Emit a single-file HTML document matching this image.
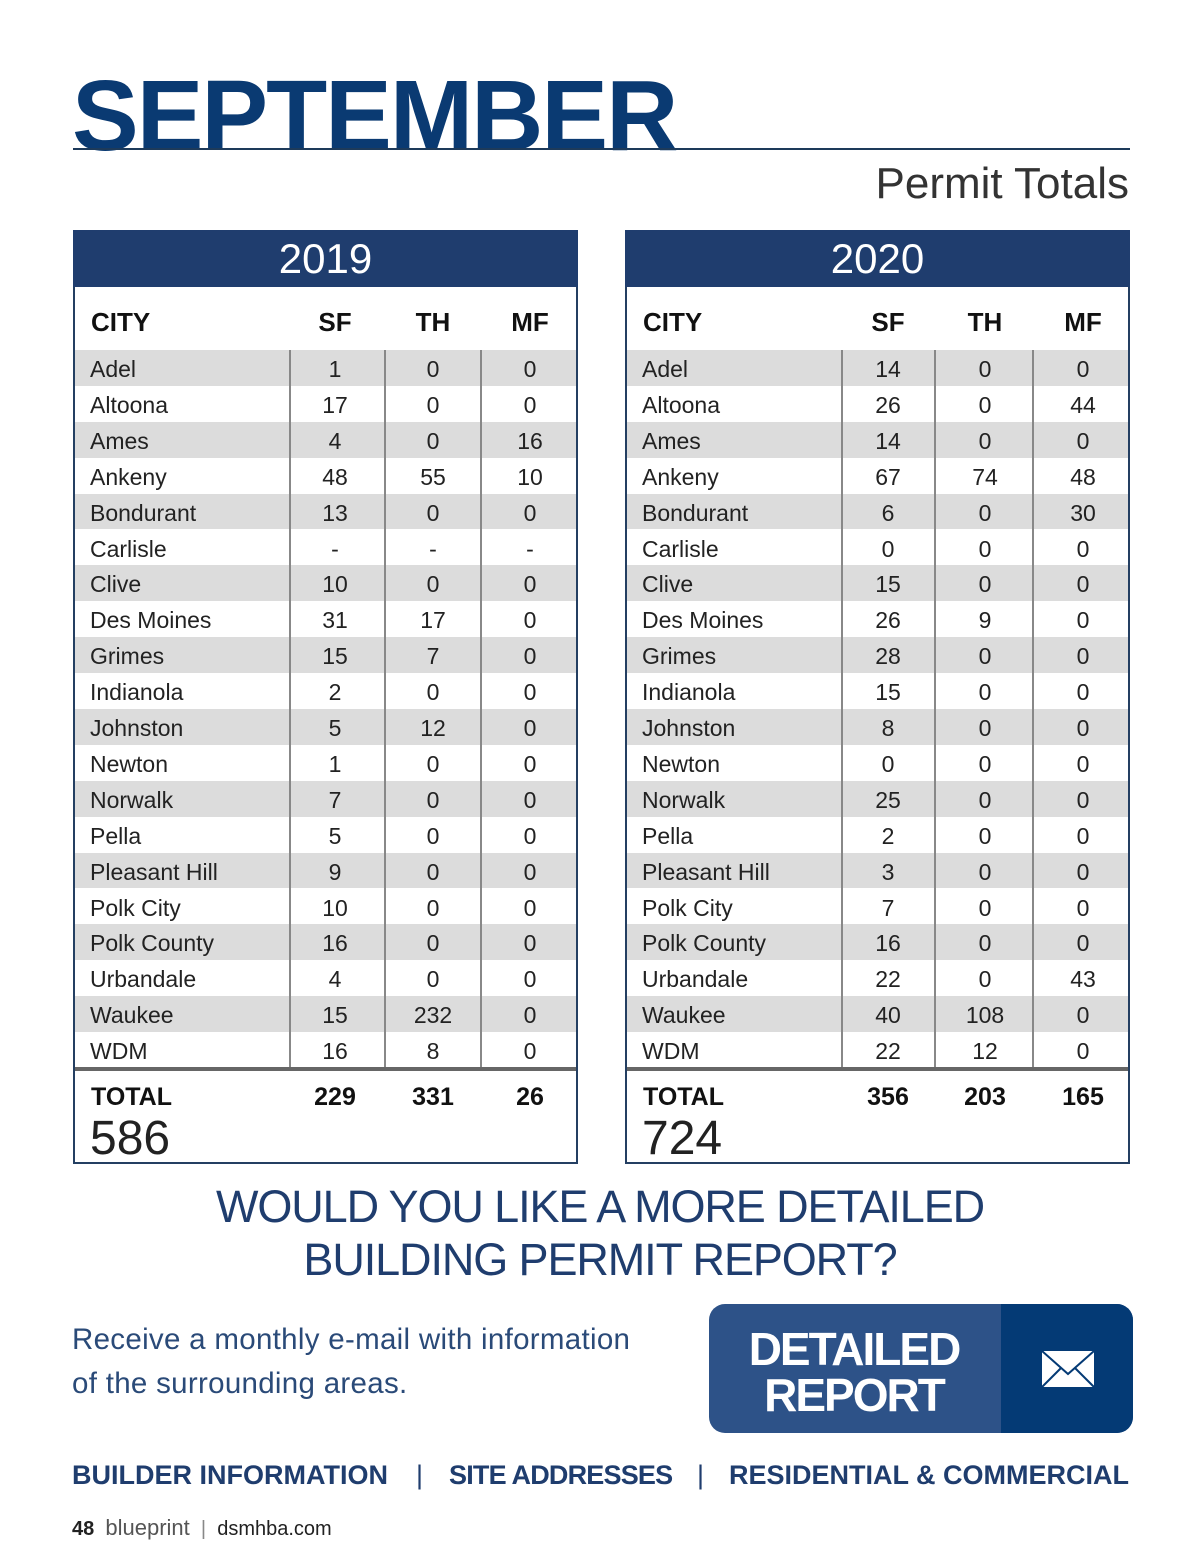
<!DOCTYPE html>
<html><head><meta charset="utf-8"><style>
body{margin:0;width:1200px;height:1558px;background:#fff;position:relative;font-family:"Liberation Sans",sans-serif;overflow:hidden}
.abs{position:absolute}
.title{left:72px;top:66px;font-size:100px;font-weight:bold;color:#0a3a72;letter-spacing:-2px;line-height:1}
.rule{left:73px;top:148px;width:1057px;height:2px;background:#1d3a5a}
.sub{right:71px;top:162px;font-size:44px;color:#333;line-height:1;font-weight:300}
.tbl{border:2px solid #243f62;border-top:none;box-sizing:border-box}
.band{background:#1f3d6e;color:#fff;font-size:42px;text-align:center;line-height:57px}
.cell{position:absolute;font-size:23px;color:#222;line-height:38px}
.hd{position:absolute;font-size:26px;font-weight:bold;color:#111;line-height:30px}
.q{left:0;right:0;top:1180px;text-align:center;font-size:45px;color:#1f3d6e;line-height:53px;letter-spacing:-1.1px}
.recv{left:72px;top:1318px;font-size:29.5px;color:#2a4a78;line-height:44px;letter-spacing:0.3px}
.foot{top:1460px;font-size:27px;font-weight:bold;color:#1f3d6e}
</style></head><body>
<div class="abs title">SEPTEMBER</div>
<div class="abs rule"></div>
<div class="abs sub">Permit Totals</div>
<div id="tables"></div>
<div class="abs q">WOULD YOU LIKE A MORE DETAILED<br>BUILDING PERMIT REPORT?</div>
<div class="abs recv">Receive a monthly e-mail with information<br>of the surrounding areas.</div>
<div class="abs" style="left:709px;top:1304px;width:424px;height:129px;border-radius:16px;overflow:hidden;background:#2d5288">
  <div class="abs" style="left:0;top:0;width:290px;height:129px;color:#fff;font-weight:bold;font-size:46px;line-height:46px;text-align:center;padding-top:22px;box-sizing:border-box;letter-spacing:-2px">DETAILED<br>REPORT</div>
  <div class="abs" style="left:292px;top:0;width:132px;height:129px;background:#043a75">
    <svg class="abs" style="left:40px;top:46px" width="54" height="38" viewBox="0 0 54 38"><rect x="1" y="1" width="52" height="36" fill="#fff"/><path d="M1 1 L27 24 L53 1 M1 37 L20 18 M53 37 L34 18" stroke="#043a75" stroke-width="2" fill="none"/></svg>
  </div>
</div>
<div class="abs foot" style="left:72px">BUILDER INFORMATION</div>
<div class="abs foot" style="left:416px;font-weight:normal">|</div>
<div class="abs foot" style="left:449px;letter-spacing:-0.8px">SITE ADDRESSES</div>
<div class="abs foot" style="left:697px;font-weight:normal">|</div>
<div class="abs foot" style="left:729px">RESIDENTIAL &amp; COMMERCIAL</div>
<div class="abs" style="left:72px;top:1515px;font-size:20px;color:#222"><b>48</b>&nbsp;&nbsp;<span style="color:#555;font-size:22px">blueprint</span>&nbsp;&nbsp;<span style="color:#888">|</span>&nbsp;&nbsp;dsmhba.com</div>
<script>
const cities=["Adel","Altoona","Ames","Ankeny","Bondurant","Carlisle","Clive","Des Moines","Grimes","Indianola","Johnston","Newton","Norwalk","Pella","Pleasant Hill","Polk City","Polk County","Urbandale","Waukee","WDM"];
const sf2019=["1","17","4","48","13","-","10","31","15","2","5","1","7","5","9","10","16","4","15","16"];
const th2019=["0","0","0","55","0","-","0","17","7","0","12","0","0","0","0","0","0","0","232","8"];
const mf2019=["0","0","16","10","0","-","0","0","0","0","0","0","0","0","0","0","0","0","0","0"];
const sf2020=["14","26","14","67","6","0","15","26","28","15","8","0","25","2","3","7","16","22","40","22"];
const th2020=["0","0","0","74","0","0","0","9","0","0","0","0","0","0","0","0","0","0","108","12"];
const mf2020=["0","44","0","48","30","0","0","0","0","0","0","0","0","0","0","0","0","43","0","0"];
const totals2019=["229","331","26"], grand2019="586";
const totals2020=["356","203","165"], grand2020="724";
const host=document.getElementById('tables');
function build(x,year,sf,th,mf,tot,grand,cx,dv){
  const t=document.createElement('div');
  
  
  t.className='abs tbl';t.style.cssText=`left:${x}px;top:230px;width:505px;height:934px`;
  host.appendChild(t);
  const b=document.createElement('div');
  
  
  b.className='band';b.style.cssText='margin:0 -2px;height:57px';b.textContent=year;t.appendChild(b);
  const hs=[["CITY",16,null],["SF",null,cx[0]],["TH",null,cx[1]],["MF",null,cx[2]]];
  hs.forEach(h=>{const e=document.createElement('div');
    
    
    e.className='hd';e.textContent=h[0];e.style.top='77px';
    if(h[1]!==null)e.style.left=h[1]+'px';else{e.style.left=(h[2]-60)+'px';e.style.width='120px';e.style.textAlign='center';}
    t.appendChild(e);});
  const rh=35.9,top0=120;
  cities.forEach((c,i)=>{
    const r=document.createElement('div');
    
    
    r.className='abs';r.style.cssText=`left:0;right:0;top:${top0+i*rh}px;height:${rh}px;background:${i%2==0?'#dcdcdc':'#fff'}`;
    t.appendChild(r);
    const vals=[c,sf[i],th[i],mf[i]];
    vals.forEach((v,j)=>{const e=document.createElement('div');
      
      
      e.className='cell';e.textContent=v;e.style.top='0';
      if(j==0)e.style.left='15px';else{e.style.left=(cx[j-1]-50)+'px';e.style.width='100px';e.style.textAlign='center';}
      r.appendChild(e);});
  });
  dv.forEach(d=>{const l=document.createElement('div');
    
    
    l.className='abs';l.style.cssText=`left:${d}px;top:${top0}px;width:2px;height:${rh*20}px;background:#888`;t.appendChild(l);});
  const tl=document.createElement('div');
  
  
  tl.className='abs';tl.style.cssText=`left:0;right:0;top:${top0+rh*20-1}px;height:4px;background:#666`;t.appendChild(tl);
  const tt=document.createElement('div');
  
  
  tt.className='hd';tt.style.cssText='left:16px;top:852px;font-size:25px';tt.textContent='TOTAL';t.appendChild(tt);
  tot.forEach((v,j)=>{const e=document.createElement('div');
    
    
    e.className='hd';e.style.cssText=`left:${cx[j]-60}px;width:120px;text-align:center;top:852px;font-size:25px`;e.textContent=v;t.appendChild(e);});
  const g=document.createElement('div');
  
  
  g.className='abs';g.style.cssText='left:15px;top:884px;font-size:48px;color:#222;line-height:50px;font-weight:300';g.textContent=grand;t.appendChild(g);
}
build(73,"2019",sf2019,th2019,mf2019,totals2019,grand2019,[260,358,455],[214,309,405]);
build(625,"2020",sf2020,th2020,mf2020,totals2020,grand2020,[261,358,456],[214,307,405]);
</script>
</body></html>
